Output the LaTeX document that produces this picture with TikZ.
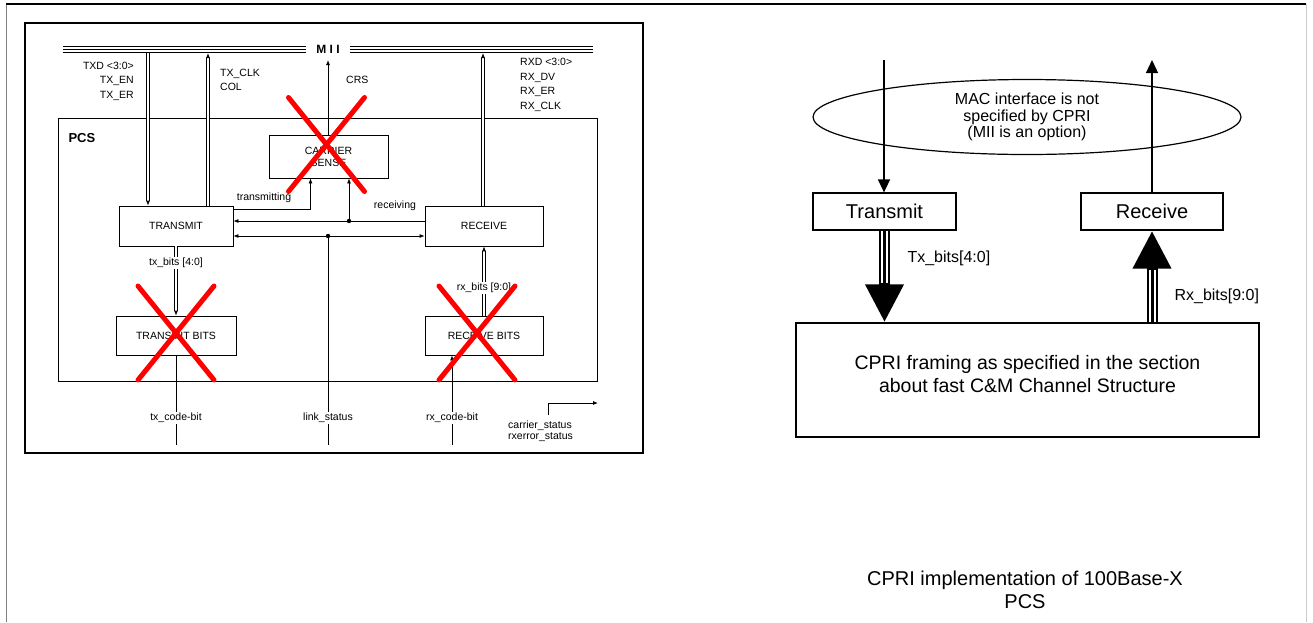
\documentclass[tikz,border=0pt]{standalone}
\usepackage{fontspec}
\setmainfont{Liberation Sans}
\usepackage{tikz}
\usetikzlibrary{shapes.geometric,arrows.meta,positioning,calc}

\begin{document}
\begin{tikzpicture}[
    x=1pt, y=-1pt,
    lbl/.style={font=\fontsize{10.5}{12}\selectfont, inner sep=1pt},
    siglbl/.style={font=\fontsize{10.5}{14.5}\selectfont, inner sep=0pt},
    sbox/.style={rectangle, draw, line width=0.8pt, font=\fontsize{10.5}{12}\selectfont, align=center, inner sep=0pt},
    bbox/.style={rectangle, draw, line width=1.2pt, font=\fontsize{20}{23}\selectfont, inner sep=0pt},
    sarrow/.style={-{Latex[length=5pt,width=4pt]}, line width=0.8pt},
    darrow/.style={{Latex[length=5pt,width=4pt]}-{Latex[length=5pt,width=4pt]}, line width=0.8pt},
    dbl/.style={double, double distance=2pt, line width=0.6pt},
    bus/.style={line width=7.5pt, postaction={draw=white, line width=5pt}, postaction={draw, line width=1pt}},
    redx/.style={red, line width=5pt, line cap=round},
    marrow/.style={-{Triangle[length=13pt,width=12pt]}, line width=1.3pt},
    fatarrow/.style={line width=11pt, -{Triangle[length=38pt,width=36pt]},
        postaction={draw=white, line width=7pt, -, shorten >=39pt},
        postaction={draw, line width=3pt, -, shorten >=39pt}},
]
    \useasboundingbox (0,0) rectangle (1313,622);

    % Frames
    \draw[gray, line width=1pt] (6,4) -- (6,622);
    \draw[gray!40, line width=1pt] (1306,4) -- (1306,622);
    \draw[line width=1.5pt] (6,4) -- (1306,4);
    \draw[line width=1.2pt] (25,23) rectangle (643,453);

    % Nodes (left: 100Base-X PCS)
    \node[draw, line width=0.8pt, minimum width=539pt, minimum height=263pt, inner sep=0pt] (pcs) at (327.5,249.5) {};
    \node[font=\bfseries\fontsize{13}{14}\selectfont, anchor=west] (pcslbl) at (65,138) {PCS};
    \node[font=\bfseries\fontsize{12}{13}\selectfont, inner xsep=10pt] (mii) at (328,49.5) {M I I};
    \node[sbox, minimum width=119pt, minimum height=43pt] (cs) at (328.5,156.5) {CARRIER\\SENSE};
    \node[sbox, minimum width=114pt, minimum height=40pt] (txm) at (176,226) {TRANSMIT};
    \node[sbox, minimum width=118pt, minimum height=40pt] (rcv) at (484,226) {RECEIVE};
    \node[sbox, minimum width=120pt, minimum height=39pt] (txb) at (176,335.5) {TRANSMIT BITS};
    \node[sbox, minimum width=118pt, minimum height=39pt] (rxb) at (484,335.5) {RECEIVE BITS};

    \coordinate (busw) at (63,49.5);
    \coordinate (buse) at (593,49.5);
    \coordinate (txd) at (148,53);
    \coordinate (txclk) at (208,53);
    \coordinate (crs) at (328,60);
    \coordinate (rxd) at (483,53);
    \coordinate (rdot) at (349,221);
    \coordinate (ldot) at (328,236);

    % MII bus and signals
    \draw[bus] (busw) -- (mii.west);
    \draw[bus] (mii.east) -- (buse);
    \draw[dbl, sarrow] (txd) -- (txd |- txm.north);
    \draw[dbl, sarrow] (txclk |- txm.north) -- (txclk);
    \draw[sarrow] (crs |- cs.north) -- (crs);
    \draw[dbl, sarrow] (rxd |- rcv.north) -- (rxd);

    \node[siglbl, anchor=east, align=right] (txdlbl) at (134,81) {TXD <3:0>\\TX\_EN\\TX\_ER};
    \node[siglbl, anchor=west, align=left] (clklbl) at (220,80) {TX\_CLK\\COL};
    \node[lbl, anchor=west] (crslbl) at (345,80) {CRS};
    \node[siglbl, anchor=west, align=left] (rxdlbl) at (520,85) {RXD <3:0>\\RX\_DV\\RX\_ER\\RX\_CLK};

    % Inside PCS
    \draw[sarrow] ([yshift=-4pt]txm.north east) -| ([xshift=-18pt]cs.south);
    \node[lbl] (trlbl) at (264,198) {transmitting};
    \draw[sarrow] (rdot -| rcv.west) -- (rdot -| txm.east);
    \draw[sarrow] (rdot) -- (rdot |- cs.south);
    \fill (rdot) circle (2.2pt);
    \node[lbl] (rvlbl) at (395,206) {receiving};
    \draw[darrow] (ldot -| txm.east) -- (ldot -| rcv.west);
    \fill (ldot) circle (2.2pt);

    \node[lbl] (txblbl) at (176,263) {tx\_bits [4:0]};
    \draw[dbl] (txm.south) -- (txblbl.north);
    \draw[dbl, sarrow] (txblbl.south) -- (txb.north);
    \node[lbl] (rxblbl) at (484,288) {rx\_bits [9:0]};
    \draw[dbl] (rxb.north) -- (rxblbl.south);
    \draw[dbl, sarrow] (rxblbl.north) -- (rcv.south);

    % Below PCS
    \node[lbl] (tcblbl) at (176,418) {tx\_code-bit};
    \node[lbl] (lslbl) at (328,418) {link\_status};
    \node[lbl] (rcblbl) at (452,418) {rx\_code-bit};
    \node[lbl, anchor=north west, align=left, font=\fontsize{10.5}{11}\selectfont] (cstlbl) at (507,420) {carrier\_status\\rxerror\_status};
    \coordinate (tcbend) at (176,445);
    \coordinate (lsend) at (328,445);
    \coordinate (rcbend) at (452,445);
    \coordinate (cst) at (548,415);
    \coordinate (cstend) at (598,403);

    \draw[line width=0.8pt] (txb.south) -- (tcblbl.north);
    \draw[line width=0.8pt] (tcblbl.south) -- (tcbend);
    \draw[line width=0.8pt] (ldot) -- (lslbl.north);
    \draw[line width=0.8pt] (lslbl.south) -- (lsend);
    \draw[sarrow] (rcblbl.north) -- (rcblbl.north |- rxb.south);
    \draw[line width=0.8pt] (rcblbl.south) -- (rcbend);
    \draw[sarrow] (cst) |- (cstend);

    % Red crosses
    \foreach \cx/\cy in {326.5/144.5, 176/333, 477/333} {
        \draw[redx] ({\cx-38},{\cy-47}) -- ({\cx+38},{\cy+47});
        \draw[redx] ({\cx+38},{\cy-47}) -- ({\cx-38},{\cy+47});
    }

    % Nodes (right: CPRI implementation)
    \node[ellipse, draw, line width=1.2pt, minimum width=428pt, minimum height=75pt, inner sep=0pt, align=center, font=\fontsize{16}{16.5}\selectfont] (mac) at (1027,117) {MAC interface is not\\specified by CPRI\\(MII is an option)};
    \node[bbox, minimum width=143pt, minimum height=37pt] (tx) at (884.5,211.5) {Transmit};
    \node[bbox, minimum width=142pt, minimum height=37pt] (rx) at (1152,211.5) {Receive};
    \node[bbox, minimum width=463pt, minimum height=114pt] (cpri) at (1027.5,380) {};
    \node[font=\fontsize{19.5}{23}\selectfont, align=center] (cpritxt) at (1027.5,374) {CPRI framing as specified in the section\\about fast C\&M Channel Structure};

    \coordinate (txin) at (884,60);
    \coordinate (rxout) at (1152,60);

    % Arrows
    \draw[marrow] (txin) -- (txin |- tx.north);
    \draw[marrow] (rx.north) -- (rxout);
    \draw[fatarrow] (tx.south) -- (tx.south |- cpri.north);
    \draw[fatarrow] (rx.south |- cpri.north) -- (rx.south);

    % Labels
    \node[font=\fontsize{16}{18}\selectfont, anchor=west] (txbits) at (904,258) {Tx\_bits[4:0]};
    \node[font=\fontsize{16}{18}\selectfont, anchor=west] (rxbits) at (1171,296) {Rx\_bits[9:0]};
    \node[font=\fontsize{20}{23}\selectfont, align=center] (cap) at (1025,589.5) {CPRI implementation of 100Base-X\\PCS};
\end{tikzpicture}
\end{document}
